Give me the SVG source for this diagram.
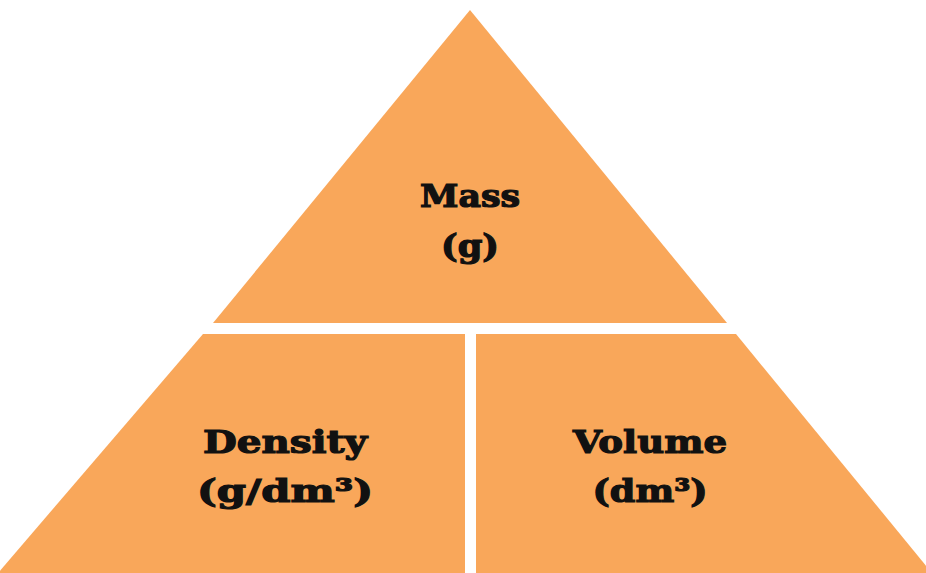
<svg xmlns="http://www.w3.org/2000/svg" width="926" height="573" viewBox="0 0 926 573">
<style>
.p{fill:#F9A75A}
.t{font-family:"DejaVu Serif","Liberation Serif",serif;font-weight:bold;font-size:31px;fill:#111;stroke:#111;stroke-width:1.2px;text-anchor:middle}
</style>
<rect width="926" height="573" fill="#fff"/>
<g id="mass">
<polygon class="p" points="470,10 727,323 213,323"/>
<text class="t" x="470" y="207" textLength="100" lengthAdjust="spacingAndGlyphs">Mass</text>
<text class="t" x="470" y="257" textLength="58" lengthAdjust="spacingAndGlyphs">(g)</text>
</g>
<g id="density">
<polygon class="p" points="203,334 465,334 465,573 -2,573"/>
<text class="t" x="285" y="453" textLength="164" lengthAdjust="spacingAndGlyphs">Density</text>
<text class="t" x="285" y="502" textLength="176" lengthAdjust="spacingAndGlyphs">(g/dm³)</text>
</g>
<g id="volume">
<polygon class="p" points="476,334 736,334 932,573 476,573"/>
<text class="t" x="650" y="453" textLength="154" lengthAdjust="spacingAndGlyphs">Volume</text>
<text class="t" x="650" y="502" textLength="115" lengthAdjust="spacingAndGlyphs">(dm³)</text>
</g>
<g id="connectors"></g>
</svg>
